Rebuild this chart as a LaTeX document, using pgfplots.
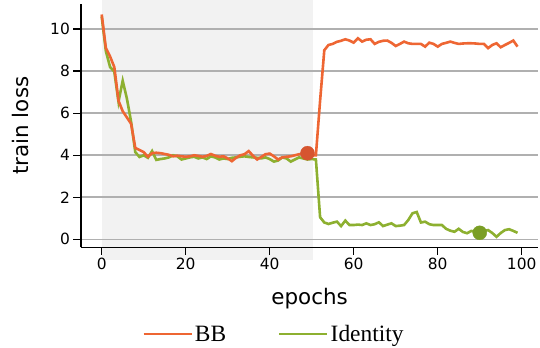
\documentclass[border=0pt]{standalone}
\usepackage{fontspec}
\setmainfont{DejaVu Sans}
\newfontfamily\legfont{Liberation Serif}
\usepackage{pgfplots}
\pgfplotsset{compat=1.18}
\definecolor{bbc}{HTML}{EE6633}
\definecolor{idc}{HTML}{8DB030}
\definecolor{bbm}{HTML}{D65530}
\definecolor{idm}{HTML}{7A9E25}
\definecolor{shade}{HTML}{F2F2F2}
\definecolor{gridc}{RGB}{176,176,176}
\begin{document}
\begin{tikzpicture}
\begin{axis}[
  name=ax,
  set layers,
  scale only axis,
  width=457.4bp, height=243.3bp,
  xmin=-4.95, xmax=103.95,
  ymin=-0.38, ymax=11.2,
  axis x line*=bottom, axis y line*=left,
  axis line style={line width=1.5bp, black},
  xtick={0,20,40,60,80,100},
  ytick={0,2,4,6,8,10},
  tick align=outside,
  major tick length=7.5bp,
  tick style={line width=1.5bp, black},
  /pgf/number format/assume math mode=true,
  tick label style={font=\fontsize{15.5}{18}\selectfont},
  ymajorgrids,
  grid style={gridc, line width=1.6bp},
  xlabel={epochs}, ylabel={train loss},
  every axis x label/.style={at={(axis description cs:0.5,-0.237)}, anchor=base, font=\fontsize{21.5}{25}\selectfont},
  every axis y label/.style={at={(axis description cs:-0.115,0.5)}, rotate=90, anchor=base, font=\fontsize{21.5}{25}\selectfont},
  legend columns=2,
  legend style={draw=none, fill=none, at={(axis description cs:0.422,-0.357)}, anchor=center,
    font=\legfont\fontsize{23.5}{27}\selectfont,
    /tikz/every even column/.append style={column sep=50bp}},
  legend image code/.code={\draw[#1] (0bp,0bp) -- (48bp,0bp);},
]
\addplot[on layer=axis background, fill=shade, draw=none, forget plot] coordinates {(0,-1) (50.3,-1) (50.3,12) (0,12)} -- cycle;
\addplot[idc, line width=2.6bp, forget plot] coordinates {
(0,10.6)(1,8.95)(2,8.2)(3,7.98)(4,6.55)(5,7.55)(6,6.7)(7,5.6)(8,4.15)(9,3.92)
(10,4.0)(11,3.88)(12,4.2)(13,3.78)(14,3.82)(15,3.85)(16,3.9)(17,4.0)(18,3.95)(19,3.8)
(20,3.85)(21,3.9)(22,3.93)(23,3.85)(24,3.9)(25,3.82)(26,3.95)(27,3.9)(28,3.8)(29,3.85)
(30,3.82)(31,3.88)(32,3.9)(33,3.93)(34,3.95)(35,3.92)(36,3.9)(37,3.88)(38,3.85)(39,3.9)
(40,3.82)(41,3.7)(42,3.75)(43,3.9)(44,3.85)(45,3.7)(46,3.8)(47,3.9)(48,3.85)(49,3.8)
(50,3.82)(51,3.8)(52,1.05)(53,0.8)(54,0.73)(55,0.79)(56,0.84)(57,0.63)(58,0.89)(59,0.68)
(60,0.68)(61,0.7)(62,0.68)(63,0.76)(64,0.68)(65,0.72)(66,0.81)(67,0.63)(68,0.7)(69,0.76)
(70,0.63)(71,0.65)(72,0.68)(73,0.92)(74,1.24)(75,1.3)(76,0.8)(77,0.84)(78,0.72)(79,0.68)
(80,0.68)(81,0.68)(82,0.5)(83,0.41)(84,0.36)(85,0.5)(86,0.35)(87,0.29)(88,0.4)(89,0.35)
(90,0.31)(91,0.4)(92,0.44)(93,0.3)(94,0.12)(95,0.3)(96,0.44)(97,0.48)(98,0.4)(99,0.31)
};
\addplot[only marks, mark=*, mark size=7bp, idm, forget plot] coordinates {(90,0.31)};
\addplot[only marks, mark=*, mark size=7bp, bbm, forget plot] coordinates {(49,4.1)};
\addplot[bbc, line width=2.6bp] coordinates {
(0,10.7)(1,9.1)(2,8.7)(3,8.2)(4,6.6)(5,6.1)(6,5.8)(7,5.5)(8,4.35)(9,4.25)
(10,4.15)(11,3.93)(12,4.1)(13,4.12)(14,4.1)(15,4.06)(16,4.02)(17,3.95)(18,3.98)(19,3.95)
(20,3.93)(21,3.95)(22,4.0)(23,3.97)(24,3.93)(25,3.97)(26,4.06)(27,3.98)(28,3.93)(29,3.95)
(30,3.85)(31,3.72)(32,3.88)(33,4.0)(34,4.05)(35,4.2)(36,3.98)(37,3.8)(38,3.92)(39,4.05)
(40,4.08)(41,3.95)(42,3.8)(43,3.9)(44,3.93)(45,3.95)(46,4.0)(47,4.05)(48,4.08)(49,4.1)
(50,4.0)(51,4.0)(52,6.6)(53,9.0)(54,9.25)(55,9.3)(56,9.4)(57,9.45)(58,9.52)(59,9.46)
(60,9.36)(61,9.57)(62,9.41)(63,9.5)(64,9.52)(65,9.3)(66,9.4)(67,9.45)(68,9.46)(69,9.35)
(70,9.2)(71,9.3)(72,9.41)(73,9.33)(74,9.3)(75,9.3)(76,9.3)(77,9.17)(78,9.36)(79,9.3)
(80,9.17)(81,9.3)(82,9.35)(83,9.41)(84,9.35)(85,9.3)(86,9.32)(87,9.33)(88,9.33)(89,9.32)
(90,9.3)(91,9.3)(92,9.1)(93,9.25)(94,9.33)(95,9.14)(96,9.25)(97,9.35)(98,9.46)(99,9.17)
};
\addlegendentry{BB}
\addlegendimage{idc, line width=2.6bp}
\addlegendentry{Identity}
\end{axis}
\path ([shift={(-80.9bp,-100.7bp)}]ax.south west) rectangle ++(540bp,348bp);
\end{tikzpicture}
\end{document}
